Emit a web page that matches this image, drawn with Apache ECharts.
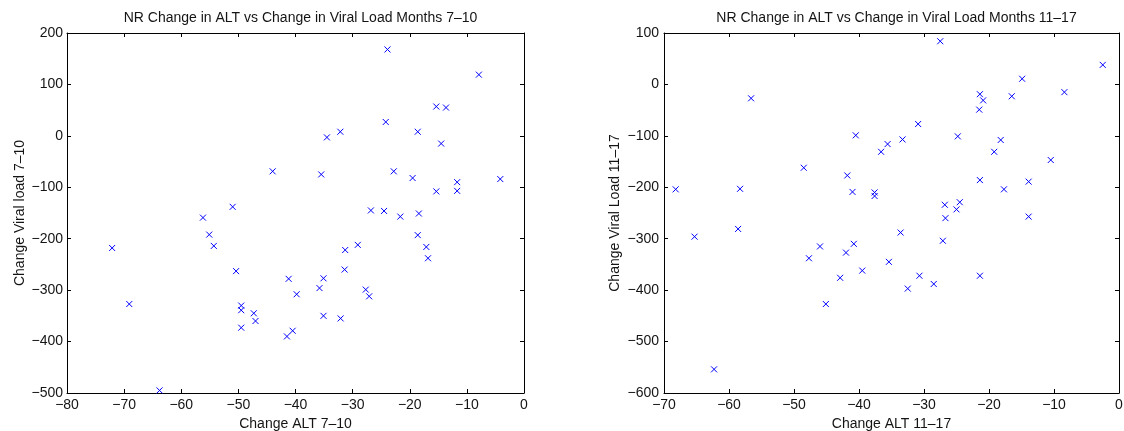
<!DOCTYPE html>
<html>
<head>
<meta charset="utf-8">
<script src="https://cdn.jsdelivr.net/npm/echarts@6/dist/echarts.min.js"></script>
<style>
  html, body { margin: 0; padding: 0; background: #fff; }
  #chart { width: 1124px; height: 431px; }
</style>
</head>
<body>
<div id="chart"></div>
<script>
// ---- Data ----
const leftTitle = 'NR Change in ALT vs Change in Viral Load Months 7\u201310';
const leftXName = 'Change ALT 7\u201310';
const leftYName = 'Change Viral load 7\u201310';
const leftX = [-44.0, -51.0, -56.2, -55.1, -54.3, -72.1, -50.4, -41.2, -39.8, -69.1,
  -49.5, -49.5, -47.3, -47.0, -49.5, -40.5, -41.5, -63.8, -23.9, -7.9,
  -15.35, -13.65, -24.2, -32.15, -18.6, -34.5, -14.5, -22.8, -35.5, -19.5,
  -4.15, -11.7, -15.35, -11.7, -26.8, -24.5, -21.65, -18.4, -18.6, -17.1,
  -16.8, -29.1, -31.3, -31.4, -35.1, -35.8, -27.7, -27.1, -35.1, -32.1];
const leftY = [-69, -138, -159, -192, -214, -218, -263, -278, -308, -327,
  -330, -339, -345, -360, -373, -379, -390, -495, 168, 119,
  57, 55, 27, 8, 8, -3, -15, -69, -75, -82,
  -84, -90, -108, -107, -145, -146, -157, -151, -193, -216,
  -238, -212, -222, -260, -277, -296, -299, -312, -350, -355];

const rightTitle = 'NR Change in ALT vs Change in Viral Load Months 11\u201317';
const rightXName = 'Change ALT 11\u201317';
const rightYName = 'Change Viral Load 11\u201317';
const rightX = [-56.6, -40.5, -48.5, -41.8, -68.2, -58.3, -41.0, -27.5, -2.5, -14.9,
  -8.4, -21.4, -16.5, -20.9, -21.5, -30.9, -24.8, -33.3, -18.2, -35.6,
  -36.6, -19.2, -10.5, -21.4, -13.9, -17.7, -37.6, -37.6, -26.8, -24.5,
  -25.0, -26.7, -13.9, -33.6, -40.8, -27.1, -35.4, -39.5, -30.7, -21.4,
  -28.5, -32.5, -65.3, -58.6, -46.0, -47.7, -42.0, -42.9, -45.1, -62.3];
const rightY = [-27, -99, -162, -177, -204, -203, -209, 84, 38, 11,
  -15, -19, -23, -31, -49, -77, -101, -107, -108, -116,
  -131, -131, -147, -186, -189, -204, -210, -217, -234, -229,
  -243, -260, -257, -288, -310, -304, -345, -362, -372, -372,
  -388, -397, -296, -281, -315, -338, -327, -376, -427, -554];

const leftXRange = [-80, 0, 10];
const leftYRange = [-500, 200, 100];
const rightXRange = [-70, 0, 10];
const rightYRange = [-600, 100, 100];

// ---- Chart ----
const font = 'Liberation Sans, Arial, Helvetica, sans-serif';
const textColor = '#141414';
const fs = 14;
const fmt = v => String(v).replace('-', '\u2212');

function zip(xs, ys) { return xs.map((x, i) => [x, ys[i]]); }

function axis(kind, pos, gridIndex, range, name, showLabel, nameGap, margin) {
  return {
    type: 'value', gridIndex, position: pos,
    min: range[0], max: range[1], interval: range[2],
    name: showLabel ? name : '', nameLocation: 'middle', nameGap: nameGap || 0,
    nameTextStyle: { fontFamily: font, fontSize: fs, color: textColor },
    axisLine: { show: true, onZero: false, lineStyle: { color: '#000', width: 1 } },
    axisTick: { show: true, inside: true, length: 4, lineStyle: { color: '#000', width: 1 } },
    axisLabel: { show: showLabel, margin: margin || 5, fontFamily: font, fontSize: fs, color: textColor, formatter: fmt },
    splitLine: { show: false }
  };
}

const chart = echarts.init(document.getElementById('chart'), null, { renderer: 'canvas' });
const sym = 'path://M0,0L10,10M10,0L0,10';
const seriesStyle = {
  type: 'scatter', symbol: sym, symbolSize: 6,
  itemStyle: { color: 'rgba(0,0,0,0)', borderColor: '#0000ff', borderWidth: 1, opacity: 1 },
  silent: true
};

chart.setOption({
  animation: false,
  backgroundColor: '#fff',
  title: [
    { text: leftTitle, left: 295.5, top: 6, textAlign: 'center',
      textStyle: { fontFamily: font, fontSize: fs, fontWeight: 'normal', color: textColor } },
    { text: rightTitle, left: 891.5, top: 6, textAlign: 'center',
      textStyle: { fontFamily: font, fontSize: fs, fontWeight: 'normal', color: textColor } }
  ],
  grid: [
    { left: 67, top: 33, width: 457, height: 360, containLabel: false, outerBoundsMode: 'none' },
    { left: 664, top: 33, width: 455, height: 360, containLabel: false, outerBoundsMode: 'none' }
  ],
  xAxis: [
    axis('x', 'bottom', 0, leftXRange, leftXName, true, 24, 5),
    axis('x', 'top', 0, leftXRange, '', false),
    axis('x', 'bottom', 1, rightXRange, rightXName, true, 24, 5),
    axis('x', 'top', 1, rightXRange, '', false)
  ],
  yAxis: [
    axis('y', 'left', 0, leftYRange, leftYName, true, 40, 4),
    axis('y', 'right', 0, leftYRange, '', false),
    axis('y', 'left', 1, rightYRange, rightYName, true, 42, 5),
    axis('y', 'right', 1, rightYRange, '', false)
  ],
  series: [
    Object.assign({}, seriesStyle, { xAxisIndex: 0, yAxisIndex: 0, data: zip(leftX, leftY) }),
    Object.assign({}, seriesStyle, { xAxisIndex: 2, yAxisIndex: 2, data: zip(rightX, rightY) })
  ]
});
</script>
</body>
</html>
